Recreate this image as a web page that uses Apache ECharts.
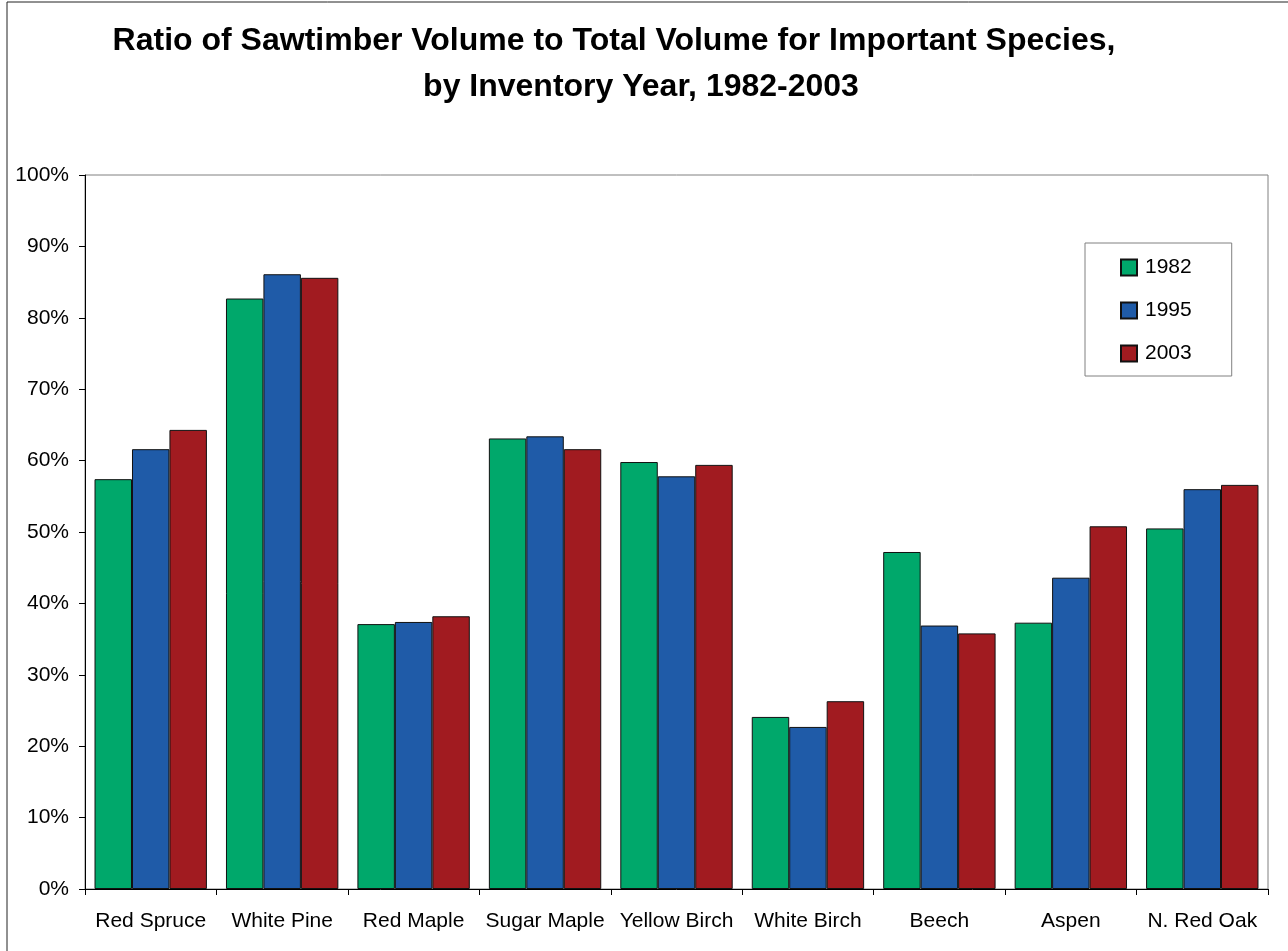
<!DOCTYPE html>
<html>
<head>
<meta charset="utf-8">
<title>Sawtimber ratio</title>
<script src="https://cdn.jsdelivr.net/npm/echarts@6/dist/echarts.min.js"></script>
<style>
  html, body { margin: 0; padding: 0; background: #fff; }
  #chart { width: 1288px; height: 951px; }
</style>
</head>
<body>
<div id="chart"></div>
<script>
// species along the x axis
const species = ['Red Spruce', 'White Pine', 'Red Maple', 'Sugar Maple', 'Yellow Birch',
  'White Birch', 'Beech', 'Aspen', 'N. Red Oak']
const years = ['1982', '1995', '2003']
// sawtimber / total volume, percent
const ratio1982 = [57.4, 82.7, 37.1, 63.1, 59.8, 24.1, 47.2, 37.3, 50.5]
const ratio1995 = [61.6, 86.1, 37.4, 63.4, 57.8, 22.7, 36.9, 43.6, 56.0]
const ratio2003 = [64.3, 85.6, 38.2, 61.6, 59.4, 26.3, 35.8, 50.8, 56.6]
const colors = ['#00a86b', '#1f5ba8', '#a11b20']

const font = "'Liberation Sans', Arial, sans-serif"
const chart = echarts.init(document.getElementById('chart'))

const seriesData = [ratio1982, ratio1995, ratio2003]
const series = years.map((y, i) => ({
  name: y,
  type: 'bar',
  barGap: '0%',
  barCategoryGap: '14.5%',
  itemStyle: {
    color: colors[i],
    borderColor: '#111',
    borderWidth: 1
  },
  emphasis: { disabled: true },
  data: seriesData[i]
}))

chart.setOption({
  animation: false,
  textStyle: { fontFamily: font },
  graphic: [
    {
      type: 'rect',
      shape: { x: 7, y: 2, width: 1320, height: 1000 },
      style: { fill: 'none', stroke: '#222', lineWidth: 1 },
      silent: true
    },
    {
      type: 'text',
      style: {
        x: 614, y: 41,
        text: 'Ratio of Sawtimber Volume to Total Volume for Important Species,',
        font: 'bold 32px ' + font,
        fill: '#000',
        textAlign: 'center',
        textVerticalAlign: 'middle'
      }
    },
    {
      type: 'text',
      style: {
        x: 641, y: 87.5,
        text: 'by Inventory Year, 1982-2003',
        font: 'bold 32px ' + font,
        fill: '#000',
        textAlign: 'center',
        textVerticalAlign: 'middle'
      }
    }
  ],
  grid: {
    left: 85,
    right: 20,
    top: 175,
    bottom: 62,
    show: true,
    borderColor: '#808080',
    borderWidth: 1,
    backgroundColor: '#fff'
  },
  legend: {
    orient: 'vertical',
    left: 1085,
    top: 243,
    padding: [14, 40, 12, 35],
    itemWidth: 16,
    itemHeight: 16,
    itemGap: 22,
    borderColor: '#808080',
    borderWidth: 1,
    icon: 'rect',
    textStyle: { fontSize: 21, color: '#000', fontFamily: font, padding: [0, 0, 0, 3] },
    data: years
  },
  xAxis: {
    type: 'category',
    data: species,
    axisLine: { lineStyle: { color: '#000', width: 1 } },
    axisTick: { show: true, length: 6, lineStyle: { color: '#000' } },
    axisLabel: { interval: 0, fontSize: 21, color: '#000', margin: 22 },
    splitLine: { show: false }
  },
  yAxis: {
    type: 'value',
    min: 0,
    max: 100,
    interval: 10,
    axisLine: { show: true, lineStyle: { color: '#000', width: 1 } },
    axisTick: { show: true, length: 6, lineStyle: { color: '#000' } },
    axisLabel: { fontSize: 21, color: '#000', margin: 16, formatter: '{value}%' },
    splitLine: { show: false }
  },
  series: series
})
</script>
</body>
</html>
